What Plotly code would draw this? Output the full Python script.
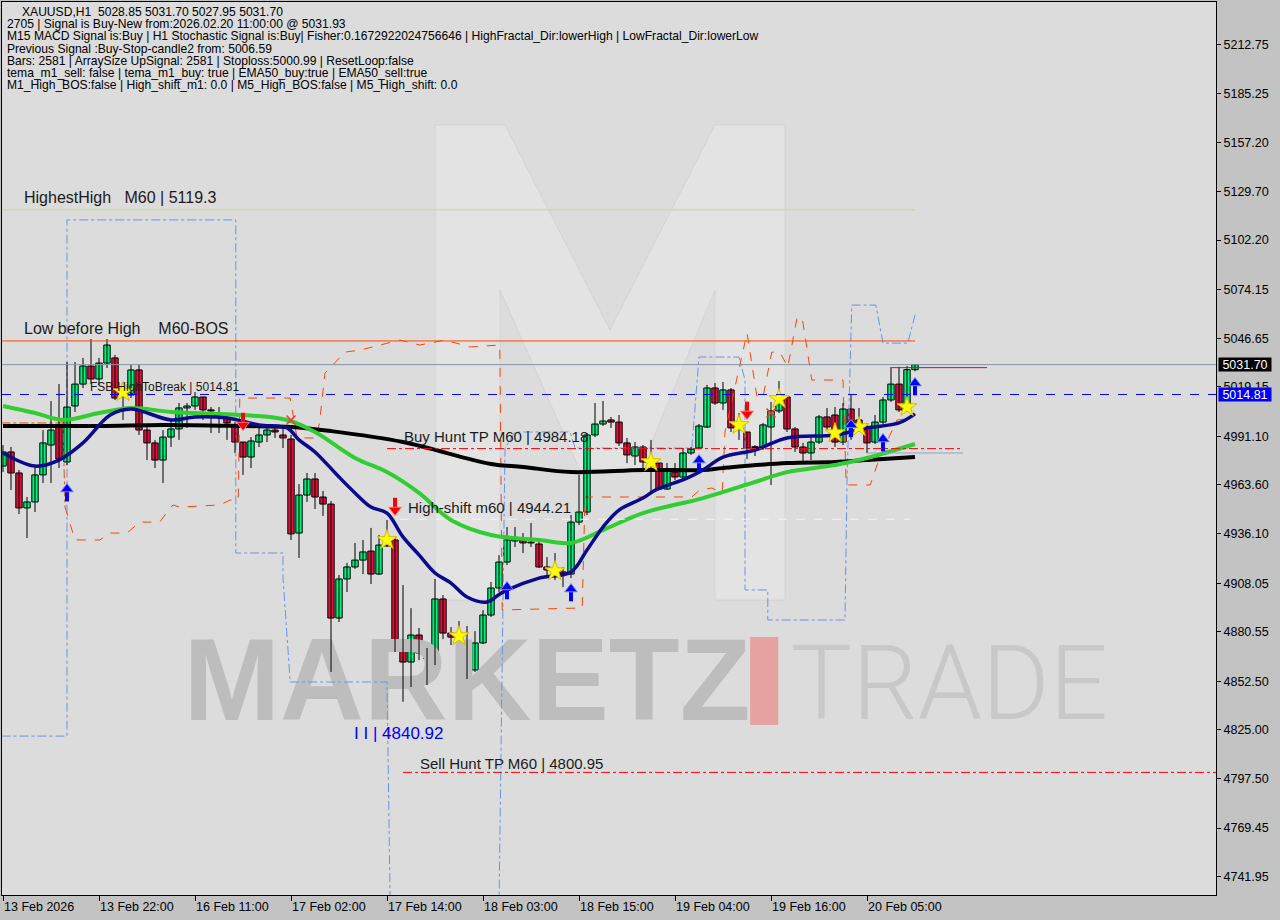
import plotly.graph_objects as go

# ---------------- XAUUSD H1 bars (13 Feb 2026 10:00 .. 20 Feb 2026 11:00) ----------------
opens = [4974.3, 4982.3, 4970.4, 4950.6, 4954.0, 4969.3, 4986.2, 4996.4, 4976.6, 5008.3,
         5020.7, 5030.9, 5023.6, 5032.6, 5035.5, 5014.5, 5014.5, 5028.7, 4994.7, 4987.4,
         4977.7, 4990.7, 4995.3, 5007.2, 5008.3, 5013.4, 5006.1, 5004.3, 5001.5, 4997.6,
         4987.9, 4979.4, 4987.9, 4991.9, 4994.7, 4991.9, 4989.6, 4936.4, 4957.9, 4967.0,
         4956.8, 4952.8, 4888.3, 4910.4, 4917.2, 4921.1, 4926.2, 4913.2, 4929.1, 4932.5,
         4869.6, 4863.4, 4878.7, 4868.5, 4865.1, 4899.1, 4879.8, 4877.5, 4873.0, 4858.9,
         4874.2, 4890.0, 4905.3, 4920.0, 4931.9, 4932.5, 4930.8, 4930.2, 4917.2, 4915.5,
         4914.4, 4913.2, 4942.6, 4948.3, 4991.9, 4998.1, 5000.4, 4999.2, 4987.4, 4980.0,
         4985.1, 4976.6, 4976.0, 4961.3, 4970.9, 4968.1, 4981.7, 4984.5, 4996.4, 5018.5,
         5010.0, 5017.4, 4995.9, 4993.6, 4985.1, 4985.1, 4996.4, 5005.5, 5013.4, 4995.3,
         4985.1, 4981.7, 4987.9, 5002.1, 5003.2, 4987.9, 5006.6, 5000.4, 4996.4, 4987.9,
         4999.2, 5011.7, 5020.7, 5006.59, 5028.85]
highs = [4986.2, 4985.1, 4972.1, 4956.8, 4974.3, 4994.7, 5011.1, 5020.7, 5033.2, 5033.2,
         5035.5, 5046.2, 5035.5, 5046.2, 5037.2, 5021.9, 5031.5, 5031.5, 4997.6, 4989.1,
         4994.7, 5000.4, 5010.0, 5010.0, 5016.2, 5013.4, 5007.7, 5007.7, 5004.3, 4999.2,
         4987.9, 4990.7, 4995.9, 4997.6, 4997.6, 4997.6, 4991.9, 4964.1, 4970.4, 4970.4,
         4960.2, 4954.5, 4912.7, 4919.5, 4930.8, 4932.5, 4939.3, 4935.3, 4943.8, 4934.2,
         4907.0, 4893.9, 4882.7, 4871.3, 4910.4, 4901.3, 4883.2, 4886.6, 4883.8, 4880.9,
         4892.8, 4908.7, 4923.9, 4939.8, 4939.8, 4936.4, 4942.1, 4931.3, 4922.8, 4925.1,
         4917.2, 4946.6, 4969.3, 4993.0, 5010.0, 5011.1, 5002.1, 5003.2, 4990.2, 4987.9,
         4986.2, 4989.1, 4976.0, 4976.0, 4976.0, 4984.5, 4985.1, 4998.1, 5020.2, 5021.3,
         5021.9, 5018.5, 5004.3, 4993.6, 4986.2, 4998.7, 5010.6, 5022.4, 5013.9, 4996.4,
         4987.4, 4990.7, 5003.2, 5007.2, 5007.7, 5010.0, 5015.1, 5007.2, 4998.7, 5003.2,
         5013.4, 5030.4, 5030.4, 5030.9, 5031.70]
lows = [4970.9, 4960.8, 4947.2, 4933.6, 4948.3, 4964.7, 4964.7, 4973.2, 4974.9, 5004.9,
        5018.5, 5020.7, 5020.2, 5029.8, 5011.7, 5000.4, 5012.8, 4991.9, 4977.7, 4973.2,
        4964.7, 4985.1, 4989.1, 4995.9, 5006.1, 5000.4, 4993.0, 4993.0, 4989.1, 4981.7,
        4969.3, 4973.2, 4985.1, 4987.9, 4990.2, 4984.5, 4932.5, 4922.3, 4954.0, 4950.0,
        4946.1, 4857.8, 4886.1, 4903.0, 4916.1, 4913.2, 4907.6, 4912.7, 4928.5, 4869.1,
        4840.92, 4849.3, 4864.5, 4850.4, 4861.7, 4876.4, 4873.0, 4875.9, 4853.8, 4857.8,
        4873.6, 4888.9, 4903.0, 4918.3, 4928.5, 4925.1, 4928.5, 4916.6, 4911.5, 4909.8,
        4905.9, 4910.9, 4940.9, 4946.6, 4990.7, 4997.0, 4995.9, 4985.7, 4976.0, 4974.9,
        4972.1, 4959.1, 4960.8, 4960.8, 4966.4, 4966.4, 4980.6, 4983.9, 4995.9, 5008.9,
        5006.1, 4993.6, 4989.1, 4978.3, 4980.0, 4983.4, 4963.6, 5004.3, 4993.6, 4982.3,
        4976.0, 4977.7, 4986.8, 4994.7, 4985.1, 4986.2, 4989.1, 4994.7, 4981.7, 4986.8,
        4998.1, 5010.6, 5004.9, 5004.9, 5027.95]
closes = [4982.3, 4970.4, 4950.6, 4954.0, 4969.3, 4987.4, 4994.7, 4978.3, 5007.7, 5020.7,
          5030.9, 5023.6, 5032.6, 5042.8, 5012.8, 5017.4, 5028.7, 4994.7, 4987.4, 4977.7,
          4990.7, 4995.3, 5007.2, 5008.3, 5013.4, 5006.1, 5005.5, 5002.1, 4998.7, 4987.9,
          4979.4, 4988.5, 4991.9, 4994.7, 4993.6, 4990.2, 4935.9, 4957.9, 4967.0, 4956.8,
          4952.8, 4888.3, 4910.4, 4917.2, 4921.1, 4925.7, 4913.2, 4929.6, 4931.3, 4870.8,
          4863.4, 4878.7, 4868.5, 4865.1, 4899.1, 4879.8, 4877.5, 4878.1, 4858.9, 4874.2,
          4890.0, 4905.3, 4920.0, 4932.5, 4933.0, 4930.8, 4931.2, 4917.2, 4915.5, 4914.4,
          4913.2, 4942.6, 4948.3, 4991.9, 4998.1, 4999.8, 4999.2, 4987.4, 4980.6, 4985.1,
          4976.6, 4977.2, 4961.3, 4972.1, 4968.1, 4981.7, 4983.9, 4997.0, 5018.5, 5010.0,
          5017.4, 4995.9, 4997.6, 4984.5, 4984.8, 4997.6, 5005.5, 5011.7, 4995.3, 4985.1,
          4981.7, 4987.9, 5002.1, 4996.4, 4987.9, 5006.6, 4998.7, 4997.6, 4987.4, 4999.2,
          5011.7, 5020.7, 5006.1, 5028.85, 5031.70]
bars = list(range(len(opens)))

# time axis labels (bar index -> label)
tick_bars = [0, 12, 24, 36, 48, 60, 72, 84, 96, 108]
tick_labels = ["13 Feb 2026", "13 Feb 22:00", "16 Feb 11:00", "17 Feb 02:00", "17 Feb 14:00",
               "18 Feb 03:00", "18 Feb 15:00", "19 Feb 04:00", "19 Feb 16:00", "20 Feb 05:00"]

# price scale labels
price_ticks = [5212.75, 5185.25, 5157.20, 5129.70, 5102.20, 5074.15, 5046.65, 5019.15,
               4991.10, 4963.60, 4936.10, 4908.05, 4880.55, 4852.50, 4825.00, 4797.50,
               4769.45, 4741.95]

# moving averages (bar position, value)
ma_slow_x = [0, 12, 20, 30, 36, 41, 50, 61, 65, 71, 80, 87.5, 90, 98, 104, 108, 114]
ma_slow_y = [4997.0, 4997.0, 4997.6, 4997.0, 4996.4, 4994.1, 4987.9, 4975.5, 4973.8, 4970.9,
             4972.1, 4972.1, 4973.2, 4976.0, 4976.6, 4977.7, 4979.4]
ma_mid_x = [0, 4, 7.5, 12, 16, 21, 30, 35.5, 39, 44, 48, 52, 56, 61, 67, 71, 75, 80, 87.5,
            94, 98, 104, 108, 114]
ma_mid_y = [5008.3, 5004.3, 5000.4, 5004.3, 5007.2, 5004.9, 5003.2, 5000.4, 4993.6, 4978.9,
            4970.9, 4959.1, 4943.8, 4935.3, 4932.5, 4930.8, 4938.1, 4947.7, 4956.2, 4965.3,
            4970.9, 4974.9, 4978.9, 4986.8]
ma_fast_x = [0, 4, 7, 10, 13.4, 16, 21, 24, 28, 32, 35.5, 37, 39, 42, 44, 46, 48, 50, 52, 54,
             56, 58, 60.5, 62.5, 67, 71, 73, 75, 77, 80, 81.6, 85.5, 87.5, 90, 94, 98, 104,
             108, 112, 114]
ma_fast_y = [4981.7, 4974.3, 4977.7, 4987.4, 5003.2, 5006.6, 5000.4, 5002.1, 5001.5, 4997.6,
             4995.9, 4989.1, 4982.3, 4968.1, 4959.1, 4951.1, 4947.7, 4934.2, 4924.0, 4913.8,
             4908.1, 4900.2, 4897.4, 4903.0, 4910.9, 4914.4, 4926.8, 4939.8, 4949.4, 4956.2,
             4960.8, 4967.5, 4972.1, 4979.4, 4983.4, 4990.2, 4991.9, 4995.9, 4998.7, 5003.8]

# channel step lines (bar position, value)
chan_blue_x = [-0.2, 8.0, 8.0, 29.1, 29.1, 35.0, 35.0, 35.9, 48.0, 48.4, None,
               62.0, 62.5, 62.75, 64.0, 70.9, 71.5, 86.1, 87.0, 92.0, 92.75, 92.75, 95.6,
               95.6, 105.25, 105.5, 106.1, 109.1, 110.0, 113.1, 114.1]
chan_blue_y = [4821.5, 4821.5, 5113.6, 5113.6, 4925.1, 4925.1, 4911.5, 4852.1, 4852.1, 4725.0, None,
               4725.0, 4892.9, 4984.5, 4993.6, 4993.6, 4984.5, 4984.5, 5036.0, 5036.0, 5023.0,
               4904.2, 4904.2, 4887.2, 4887.2, 4965.3, 5065.4, 5065.4, 5043.9, 5043.9, 5061.5]
chan_orange_x = [7.75, 9.0, 12.1, 13.4, 15.5, 17.1, 19.6, 20.5, 21.25, 22.1, 27.1, 28.4, 29.4,
                 29.6, 35.9, 36.4, 36.75, 39.25, 39.6, 40.25, 42.75, 44.6, 49.6, 52.1, 55.25,
                 58.4, 62.1, 62.4, 72.4, 72.75, 86.1, 87.1, 88.6, 89.9, 90.25, 93.0, 94.25,
                 95.0, 96.1, 97.1, 98.1, 99.25, 99.9, 101.1, 105.0, 105.4, 108.4, 109.6,
                 111.75, 113.75]
chan_orange_y = [4951.1, 4932.5, 4932.5, 4936.4, 4936.4, 4942.6, 4942.6, 4948.3, 4952.3, 4951.1,
                 4952.3, 4955.1, 4955.1, 5012.8, 5012.8, 5000.4, 4990.2, 4990.2, 5000.4, 5026.9,
                 5038.8, 5039.9, 5045.6, 5042.8, 5045.6, 5041.7, 5042.8, 4892.9, 4894.0, 4956.8,
                 4956.8, 4960.8, 4961.9, 4959.1, 4993.6, 5049.6, 5013.4, 5013.4, 5038.8, 5038.8,
                 5030.4, 5058.1, 5058.1, 5023.0, 5023.0, 4963.6, 4963.6, 4979.4, 5000.4, 5001.5]
prev_tp_x = [-0.2, 7.5, 7.75]
prev_tp_y = [4998.7, 4998.7, 4951.1]

# signal markers (bar position, price)
star_x = [15, 48, 57, 69, 81, 92, 97, 104, 107, 113]
star_y = [5016.2, 4932.5, 4878.1, 4914.9, 4976.6, 4997.6, 5012.3, 4993.0, 4996.4, 5007.7]
buy_arrow_x = [8, 63, 71, 87, 106, 110, 114]
buy_arrow_y = [4959.6, 4904.2, 4903.0, 4976.0, 4995.9, 4987.9, 5019.6]
sell_arrow_x = [30, 49, 93]
sell_arrow_y = [4999.2, 4951.1, 5005.5]
mark_x = [36, 96]
mark_y = [5000.4, 5004.3]

# levels
highest_high = 5119.3
low_before_high = 5045.1
bid_price = 5031.70
fsb_high = 5014.81
buy_hunt_tp = 4984.18
high_shift = 4944.21
sell_hunt_tp = 4800.95
lowest_low = 4840.92

header_lines = [
    "XAUUSD,H1  5028.85 5031.70 5027.95 5031.70",
    "2705 | Signal is Buy-New from:2026.02.20 11:00:00 @ 5031.93",
    "M15 MACD Signal is:Buy | H1 Stochastic Signal is:Buy| Fisher:0.1672922024756646 | HighFractal_Dir:lowerHigh | LowFractal_Dir:lowerLow",
    "Previous Signal :Buy-Stop-candle2 from: 5006.59",
    "Bars: 2581 | ArraySize UpSignal: 2581 | Stoploss:5000.99 | ResetLoop:false",
    "tema_m1_sell: false | tema_m1_buy: true | EMA50_buy:true | EMA50_sell:true",
    "M1_High_BOS:false | High_shift_m1: 0.0 | M5_High_BOS:false | M5_High_shift: 0.0",
]

# ---------------- layout geometry ----------------
W, H = 1280, 920
ML, MR, MT, MB = 2, 64, 2, 25
PW, PH = W - ML - MR, H - MT - MB
X_RANGE = [-0.125, -0.125 + PW / 8.0]      # 8 px per bar
Y_RANGE = [4731.57, 5236.92]
PX_PRICE = (Y_RANGE[1] - Y_RANGE[0]) / PH  # price per pixel

FONT = "Liberation Sans"
GREEN = "#00ee76"
RED = "#dc143c"


def paper_x(px):
    return (px - ML) / PW


def paper_y(py):
    return (H - MB - py) / PH


fig = go.Figure()

# background logo (faint "M")
logo_px = [(435, 600), (435, 125), (505, 125), (610, 330), (715, 125), (785, 125), (785, 600),
           (715, 600), (715, 290), (640, 470), (580, 470), (500, 290), (500, 600)]
logo_path = "M " + " L ".join(f"{paper_x(a):.4f},{paper_y(b):.4f}" for a, b in logo_px) + " Z"
fig.add_shape(type="path", xref="paper", yref="paper", path=logo_path,
              fillcolor="rgba(255,255,255,0.20)", line=dict(color="rgba(190,190,190,0.3)", width=1),
              layer="below")

# watermark
fig.add_trace(go.Scatter(x=[58.0], y=[4847.0], mode="text", text=["MARKETZ"],
                         textfont=dict(family=FONT, size=116, color="#bdbdbd", weight="bold"),
                         hoverinfo="skip", showlegend=False))
fig.add_trace(go.Scatter(x=[118.3], y=[4846.0], mode="text", text=["TRADE"],
                         textfont=dict(family="Roboto", size=103, color="#c8c8c8", weight=300),
                         hoverinfo="skip", showlegend=False))
fig.add_shape(type="rect", xref="x", yref="y", x0=93.4, x1=96.9, y0=4827.8, y1=4877.6,
              fillcolor="#e6a1a1", line=dict(width=0), layer="below")

# channel step lines
fig.add_trace(go.Scatter(x=chan_blue_x, y=chan_blue_y, mode="lines",
                         line=dict(color="#6495ed", width=1, dash="dashdot"),
                         hoverinfo="skip", showlegend=False))
fig.add_trace(go.Scatter(x=chan_orange_x, y=chan_orange_y, mode="lines",
                         line=dict(color="#ff4500", width=1, dash="dash"),
                         hoverinfo="skip", showlegend=False))
fig.add_trace(go.Scatter(x=prev_tp_x, y=prev_tp_y, mode="lines",
                         line=dict(color="#ff4500", width=1, dash="dashdot"),
                         hoverinfo="skip", showlegend=False))

# candle wicks
wx, wy = [], []
for i in bars:
    wx += [i, i, None]
    wy += [lows[i], highs[i], None]
fig.add_trace(go.Scatter(x=wx, y=wy, mode="lines", line=dict(color="black", width=1),
                         hoverinfo="skip", showlegend=False))

# candle bodies
body_base = [min(o, c) for o, c in zip(opens, closes)]
body_len = [max(abs(c - o), 0.45) for o, c in zip(opens, closes)]
body_col = [GREEN if c >= o else RED for o, c in zip(opens, closes)]
fig.add_trace(go.Bar(x=bars, y=body_len, base=body_base, width=0.8,
                     marker=dict(color=body_col, line=dict(color="black", width=1)),
                     hoverinfo="skip", showlegend=False))

# moving averages
fig.add_trace(go.Scatter(x=ma_slow_x, y=ma_slow_y, mode="lines", line_shape="spline",
                         line=dict(color="#000000", width=4), hoverinfo="skip", showlegend=False))
fig.add_trace(go.Scatter(x=ma_mid_x, y=ma_mid_y, mode="lines", line_shape="spline",
                         line=dict(color="#32cd32", width=4), hoverinfo="skip", showlegend=False))
fig.add_trace(go.Scatter(x=ma_fast_x, y=ma_fast_y, mode="lines", line_shape="spline",
                         line=dict(color="#0a0a8c", width=3.5), hoverinfo="skip", showlegend=False))

# signal markers
fig.add_trace(go.Scatter(x=star_x, y=star_y, mode="markers",
                         marker=dict(symbol="star", size=15, color="#ffff00",
                                     line=dict(color="#d8b800", width=1)),
                         hoverinfo="skip", showlegend=False))


def arrows(xs, ys, color, edge, up=True):
    s = 1 if up else -1
    # shaft
    fig.add_trace(go.Scatter(x=xs, y=[v - s * 3 * PX_PRICE for v in ys], mode="markers",
                             marker=dict(symbol="line-ns", size=9,
                                         line=dict(color=color, width=4)),
                             hoverinfo="skip", showlegend=False))
    # head
    fig.add_trace(go.Scatter(x=xs, y=[v + s * 3 * PX_PRICE for v in ys], mode="markers",
                             marker=dict(symbol="triangle-up" if up else "triangle-down", size=11,
                                         color=color, line=dict(color=edge, width=1)),
                             hoverinfo="skip", showlegend=False))


arrows(buy_arrow_x, buy_arrow_y, "#0000ff", "#6f8cff", up=True)
arrows(sell_arrow_x, sell_arrow_y, "#ff0000", "#ff7070", up=False)

fig.add_trace(go.Scatter(x=mark_x, y=mark_y, mode="markers",
                         marker=dict(symbol="x-thin-open", size=9, color="#ff3030",
                                     line=dict(color="#ff3030", width=1.5)),
                         hoverinfo="skip", showlegend=False))


# level lines
def hline(y, x0, x1, color, dash="solid", width=1, xref="x"):
    fig.add_shape(type="line", xref=xref, yref="y", x0=x0, x1=x1, y0=y, y1=y,
                  line=dict(color=color, width=width, dash=dash), layer="above")


hline(highest_high, -0.2, 114, "#c2dc86")
hline(low_before_high, -0.2, 114, "#ff4500")
hline(bid_price, 0, 1, "#8393a6", xref="paper")
hline(fsb_high, 0, 1, "#0000ff", dash="dash", xref="paper")
hline(buy_hunt_tp, 48.0, 120.0, "#ff0000", dash="dashdot")
hline(high_shift, 49.6, 113.4, "#f4f4f4", dash="dash")
hline(sell_hunt_tp, 50.0, X_RANGE[1], "#ff0000", dash="dashdot")
hline(5030.0, 111.1, 123.0, "#c8102e")
hline(4981.7, 108.0, 120.0, "#8fa3bf")


# chart labels
def label(x, y, text, size=16, color="#1a1a1a"):
    fig.add_annotation(x=x, y=y, xref="x", yref="y", text=text, showarrow=False,
                       xanchor="left", yanchor="middle",
                       font=dict(family=FONT, size=size, color=color))


label(2.4, 5126.5, "HighestHigh&nbsp;&nbsp;&nbsp;M60 | 5119.3")
label(2.4, 5052.4, "Low before High&nbsp;&nbsp;&nbsp;&nbsp;M60-BOS")
label(10.6, 5019.0, "FSB-HighToBreak | 5014.81", size=12)
label(49.9, 4991.3, "Buy Hunt TP M60 | 4984.18", size=15)
label(50.4, 4951.1, "High-shift m60 | 4944.21", size=15)
label(51.9, 4806.0, "Sell Hunt TP M60 | 4800.95", size=15)
label(43.6, 4823.0, "I I | 4840.92", size=17, color="#0000ff")

# header text block
for k, line in enumerate(header_lines):
    fig.add_annotation(x=paper_x(20 if k == 0 else 5), y=paper_y(12 + k * 12.2),
                       xref="paper", yref="paper",
                       text=line.replace("  ", "&nbsp;&nbsp;"), showarrow=False,
                       xanchor="left", yanchor="middle",
                       font=dict(family=FONT, size=12.1, color="black"))

# price boxes on the scale
for val, bg in [(bid_price, "#000000"), (fsb_high, "#0000ff")]:
    fig.add_annotation(x=1.0015, y=val, xref="paper", yref="y", text=f"{val:.2f}",
                       showarrow=False, xanchor="left", yanchor="middle", bgcolor=bg,
                       width=52, height=13, borderpad=0,
                       font=dict(family=FONT, size=12.5, color="white"))

fig.update_layout(
    width=W, height=H,
    margin=dict(l=ML, r=MR, t=MT, b=MB),
    paper_bgcolor="#c3c3c3",
    plot_bgcolor="#dcdcdc",
    barmode="overlay",
    showlegend=False,
    xaxis=dict(range=X_RANGE, tickvals=tick_bars, ticktext=tick_labels, ticks="outside",
               ticklen=5, tickcolor="black", ticklabelposition="outside right",
               showgrid=False, zeroline=False, showline=True, linecolor="black", mirror=True,
               tickfont=dict(family=FONT, size=12.5, color="black"), fixedrange=True),
    yaxis=dict(range=Y_RANGE, side="right", tickvals=price_ticks,
               ticktext=[f"{v:.2f}" for v in price_ticks], ticks="outside", ticklen=4,
               tickcolor="black", showgrid=False, zeroline=False, showline=True,
               linecolor="black", mirror=True,
               tickfont=dict(family=FONT, size=12.5, color="black"), fixedrange=True),
)

fig.write_html("out.html")
